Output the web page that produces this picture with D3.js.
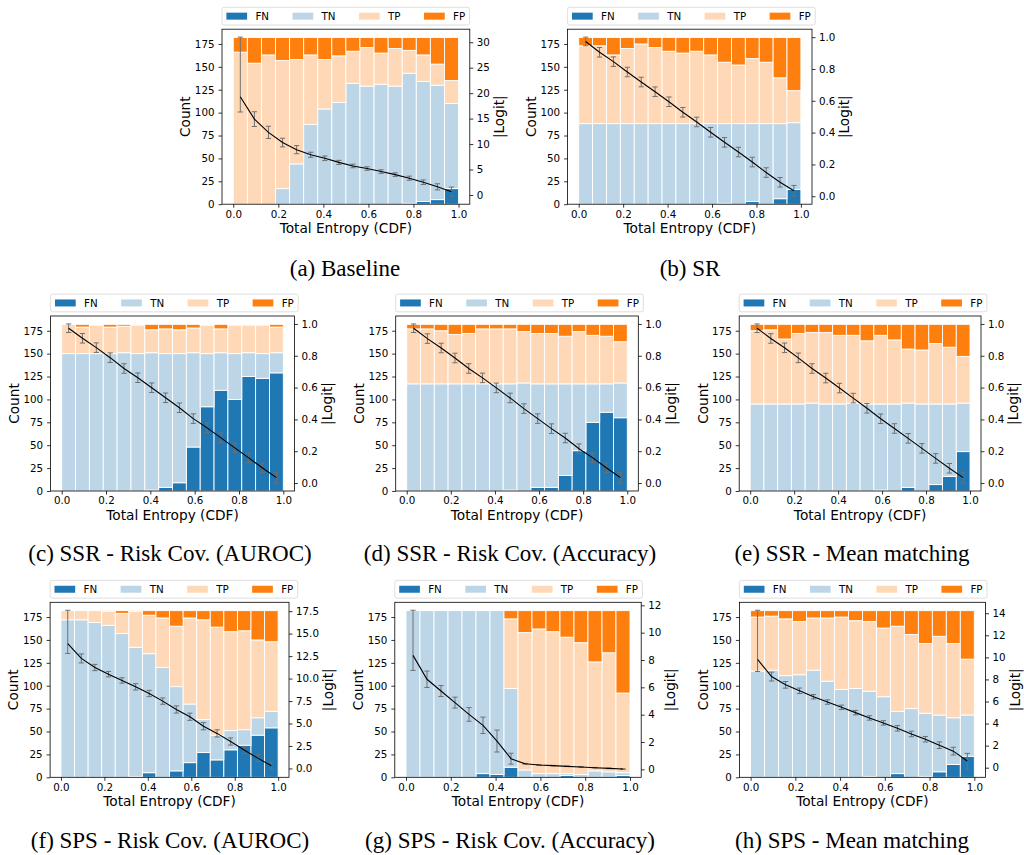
<!DOCTYPE html>
<html>
<head>
<meta charset="utf-8">
<script src="https://cdn.jsdelivr.net/npm/d3@7"></script>
<style>
  body { margin: 0; background: #fff; }
  svg { display: block; }
</style>
</head>
<body>
<svg id="fig" width="1024" height="855"></svg>
<script>
// ---- shared categories -------------------------------------------------
const classes = ["FN", "TN", "TP", "FP"];
const binLo = [0.0000, 0.0625, 0.1250, 0.1875, 0.2500, 0.3125, 0.3750, 0.4375,
               0.5000, 0.5625, 0.6250, 0.6875, 0.7500, 0.8125, 0.8750, 0.9375];
const binWidth = 0.0625;
const xTicks = [0.0, 0.2, 0.4, 0.6, 0.8, 1.0];
const countTicks = [0, 25, 50, 75, 100, 125, 150, 175];

// ---- (a) Baseline ------------------------------------------------------
const aFN = [0, 0, 0, 0, 0, 0, 0, 0, 0, 0, 0, 0, 1, 3, 5, 17];
const aTN = [0, 0, 0, 17, 44, 87, 104, 111, 132, 129, 131, 129, 142, 131, 125, 93];
const aTP = [166, 154, 163, 140, 114, 76, 54, 51, 35, 42, 34, 41, 25, 29, 23, 25];
const aFP = [16, 28, 19, 25, 24, 19, 24, 20, 15, 11, 17, 12, 14, 19, 29, 47];
const aLogit = [19.3, 14.9, 12.3, 10.3, 8.9, 7.9, 7.2, 6.4, 5.7, 5.2, 4.6, 4.0, 3.3, 2.5, 1.6, 0.65];
const aErrLo = [3.0, 1.45, 1.2, 0.85, 0.8, 0.5, 0.45, 0.4, 0.35, 0.35, 0.35, 0.35, 0.4, 0.45, 0.6, 0.9];
const aErrHi = [11.7, 1.45, 1.2, 0.85, 0.8, 0.5, 0.45, 0.4, 0.35, 0.35, 0.35, 0.35, 0.4, 0.45, 0.6, 0.9];
const aLogitTicks = [0, 5, 10, 15, 20, 25, 30];

// ---- (b) SR ------------------------------------------------------------
const bFN = [0, 0, 0, 0, 0, 0, 0, 0, 0, 0, 1, 0, 3, 0, 6, 16];
const bTN = [88, 88, 88, 88, 88, 88, 88, 88, 88, 88, 87, 88, 85, 88, 82, 73];
const bTP = [85, 85, 75, 82, 87, 83, 79, 77, 79, 75, 67, 64, 71, 67, 50, 35];
const bFP = [9, 9, 19, 12, 7, 11, 15, 17, 15, 19, 27, 30, 23, 27, 44, 58];
const bLogit = [0.973, 0.905, 0.846, 0.781, 0.718, 0.657, 0.594, 0.528, 0.467, 0.402, 0.339, 0.278, 0.215, 0.149, 0.088, 0.034];
const bErrLo = [0.027, 0.03, 0.03, 0.03, 0.03, 0.03, 0.03, 0.03, 0.03, 0.03, 0.03, 0.03, 0.03, 0.03, 0.03, 0.034];
const bErrHi = [0.027, 0.03, 0.03, 0.03, 0.03, 0.03, 0.03, 0.03, 0.03, 0.03, 0.03, 0.03, 0.03, 0.03, 0.03, 0.034];
const unitLogitTicks = [0.0, 0.2, 0.4, 0.6, 0.8, 1.0];

// ---- (c) SSR - Risk Cov. (AUROC) ---------------------------------------
const cFN = [0, 0, 0, 0, 0, 0, 1, 4, 9, 48, 92, 110, 100, 125, 123, 129];
const cTN = [150, 150, 150, 150, 151, 150, 150, 146, 141, 103, 58, 41, 50, 26, 27, 22];
const cTP = [32, 29, 31, 29, 29, 31, 25, 27, 26, 27, 31, 26, 31, 30, 31, 28];
const cFP = [0, 3, 1, 3, 2, 1, 6, 5, 6, 4, 1, 5, 1, 1, 1, 3];
const cLogit = [0.973, 0.91, 0.851, 0.788, 0.72, 0.662, 0.599, 0.536, 0.473, 0.405, 0.347, 0.284, 0.221, 0.158, 0.095, 0.034];
const cErrLo = [0.027, 0.03, 0.03, 0.03, 0.03, 0.03, 0.03, 0.03, 0.03, 0.03, 0.03, 0.03, 0.03, 0.03, 0.03, 0.034];
const cErrHi = [0.027, 0.03, 0.03, 0.03, 0.03, 0.03, 0.03, 0.03, 0.03, 0.03, 0.03, 0.03, 0.03, 0.03, 0.03, 0.034];

// ---- (d) SSR - Risk Cov. (Accuracy) ------------------------------------
const dFN = [0, 0, 0, 0, 0, 0, 0, 1, 0, 4, 4, 17, 44, 75, 86, 80];
const dTN = [117, 117, 117, 117, 117, 117, 117, 116, 118, 113, 113, 100, 73, 42, 31, 38];
const dTP = [60, 60, 58, 54, 55, 60, 60, 60, 56, 55, 55, 52, 57, 53, 52, 45];
const dFP = [5, 5, 7, 11, 10, 5, 5, 5, 8, 10, 10, 13, 8, 12, 13, 19];
const dLogit = [0.973, 0.908, 0.849, 0.786, 0.72, 0.661, 0.598, 0.535, 0.468, 0.405, 0.342, 0.283, 0.216, 0.158, 0.095, 0.034];
const dErrLo = [0.027, 0.03, 0.03, 0.03, 0.03, 0.03, 0.03, 0.03, 0.03, 0.03, 0.03, 0.03, 0.03, 0.03, 0.03, 0.034];
const dErrHi = [0.027, 0.03, 0.03, 0.03, 0.03, 0.03, 0.03, 0.03, 0.03, 0.03, 0.03, 0.03, 0.03, 0.03, 0.03, 0.034];

// ---- (e) SSR - Mean matching -------------------------------------------
const eFN = [0, 0, 0, 0, 0, 0, 0, 0, 0, 1, 0, 4, 0, 7, 16, 43];
const eTN = [95, 95, 95, 95, 96, 95, 95, 96, 95, 94, 95, 92, 95, 88, 79, 53];
const eTP = [80, 81, 71, 77, 77, 78, 75, 74, 69, 75, 70, 59, 59, 66, 62, 51];
const eFP = [7, 6, 16, 10, 9, 9, 12, 12, 18, 12, 17, 27, 28, 21, 25, 35];
const eLogit = [0.973, 0.909, 0.85, 0.787, 0.72, 0.66, 0.597, 0.534, 0.47, 0.404, 0.343, 0.281, 0.218, 0.155, 0.093, 0.034];
const eErrLo = [0.027, 0.03, 0.03, 0.03, 0.03, 0.03, 0.03, 0.03, 0.03, 0.03, 0.03, 0.03, 0.03, 0.03, 0.03, 0.034];
const eErrHi = [0.027, 0.03, 0.03, 0.03, 0.03, 0.03, 0.03, 0.03, 0.03, 0.03, 0.03, 0.03, 0.03, 0.03, 0.03, 0.034];

// ---- (f) SPS - Risk Cov. (AUROC) ---------------------------------------
const fFN = [0, 0, 0, 0, 0, 1, 5, 0, 7, 16, 27, 19, 30, 35, 46, 54];
const fTN = [172, 172, 169, 166, 157, 141, 130, 120, 92, 64, 36, 27, 21, 17, 19, 18];
const fTP = [10, 10, 13, 15, 22, 39, 42, 54, 66, 94, 109, 118, 108, 108, 85, 76];
const fFP = [0, 0, 0, 1, 3, 1, 5, 8, 17, 8, 10, 18, 23, 22, 32, 34];
const fLogit = [13.9, 12.24, 11.23, 10.49, 9.79, 9.08, 8.34, 7.49, 6.56, 5.75, 4.7, 3.9, 3.0, 2.05, 1.15, 0.3];
const fErrLo = [1.1, 0.5, 0.35, 0.3, 0.3, 0.35, 0.35, 0.35, 0.4, 0.4, 0.4, 0.4, 0.4, 0.4, 0.4, 0.4];
const fErrHi = [3.7, 0.5, 0.35, 0.3, 0.3, 0.35, 0.35, 0.35, 0.4, 0.4, 0.4, 0.4, 0.4, 0.4, 0.4, 0.4];
const fLogitTicks = [0.0, 2.5, 5.0, 7.5, 10.0, 12.5, 15.0, 17.5];

// ---- (g) SPS - Risk Cov. (Accuracy) ------------------------------------
const gFN = [0, 0, 0, 0, 0, 4, 3, 11, 0, 0, 0, 2, 0, 0, 0, 2];
const gTN = [182, 182, 182, 182, 182, 178, 179, 86, 8, 4, 4, 2, 3, 7, 6, 3];
const gTP = [0, 0, 0, 0, 0, 0, 0, 76, 150, 158, 155, 149, 144, 119, 130, 87];
const gFP = [0, 0, 0, 0, 0, 0, 0, 9, 24, 20, 23, 29, 35, 56, 46, 90];
const gLogit = [8.34, 6.59, 5.73, 4.88, 4.02, 3.22, 2.07, 0.78, 0.41, 0.32, 0.27, 0.22, 0.17, 0.12, 0.07, 0.02];
const gErrLo = [1.1, 0.6, 0.4, 0.4, 0.5, 0.6, 0.8, 0.4, 0.03, 0.02, 0.02, 0.02, 0.02, 0.02, 0.02, 0.02];
const gErrHi = [3.3, 0.6, 0.4, 0.4, 0.5, 0.6, 0.8, 0.4, 0.03, 0.02, 0.02, 0.02, 0.02, 0.02, 0.02, 0.02];
const gLogitTicks = [0, 2, 4, 6, 8, 10, 12];

// ---- (h) SPS - Mean matching -------------------------------------------
const hFN = [0, 0, 0, 0, 0, 0, 0, 0, 1, 0, 4, 0, 1, 6, 14, 23];
const hTN = [116, 117, 111, 112, 117, 105, 96, 97, 93, 88, 68, 75, 69, 62, 51, 45];
const hTP = [59, 59, 62, 58, 57, 69, 79, 74, 76, 75, 93, 81, 76, 86, 81, 61];
const hFP = [7, 6, 9, 12, 8, 8, 7, 11, 12, 19, 17, 26, 36, 28, 36, 53];
const hLogit = [9.82, 8.26, 7.51, 6.97, 6.43, 5.95, 5.47, 4.99, 4.51, 4.06, 3.57, 3.06, 2.58, 2.04, 1.5, 0.6];
const hErrLo = [1.1, 0.4, 0.3, 0.25, 0.2, 0.2, 0.2, 0.2, 0.2, 0.2, 0.25, 0.25, 0.25, 0.3, 0.35, 0.75];
const hErrHi = [4.45, 0.4, 0.3, 0.25, 0.2, 0.2, 0.2, 0.2, 0.2, 0.2, 0.25, 0.25, 0.25, 0.3, 0.35, 0.7];
const hLogitTicks = [0, 2, 4, 6, 8, 10, 12, 14];

const captions = [
  "(a) Baseline", "(b) SR",
  "(c) SSR - Risk Cov. (AUROC)", "(d) SSR - Risk Cov. (Accuracy)", "(e) SSR - Mean matching",
  "(f) SPS - Risk Cov. (AUROC)", "(g) SPS - Risk Cov. (Accuracy)", "(h) SPS - Mean matching"
];

// ---- figure setup ------------------------------------------------------
const panels = [
  { FN: aFN, TN: aTN, TP: aTP, FP: aFP, logit: aLogit, lo: aErrLo, hi: aErrHi, ticks: aLogitTicks, fmt: d3.format("d") },
  { FN: bFN, TN: bTN, TP: bTP, FP: bFP, logit: bLogit, lo: bErrLo, hi: bErrHi, ticks: unitLogitTicks, fmt: d3.format(".1f") },
  { FN: cFN, TN: cTN, TP: cTP, FP: cFP, logit: cLogit, lo: cErrLo, hi: cErrHi, ticks: unitLogitTicks, fmt: d3.format(".1f") },
  { FN: dFN, TN: dTN, TP: dTP, FP: dFP, logit: dLogit, lo: dErrLo, hi: dErrHi, ticks: unitLogitTicks, fmt: d3.format(".1f") },
  { FN: eFN, TN: eTN, TP: eTP, FP: eFP, logit: eLogit, lo: eErrLo, hi: eErrHi, ticks: unitLogitTicks, fmt: d3.format(".1f") },
  { FN: fFN, TN: fTN, TP: fTP, FP: fFP, logit: fLogit, lo: fErrLo, hi: fErrHi, ticks: fLogitTicks, fmt: d3.format(".1f") },
  { FN: gFN, TN: gTN, TP: gTP, FP: gFP, logit: gLogit, lo: gErrLo, hi: gErrHi, ticks: gLogitTicks, fmt: d3.format("d") },
  { FN: hFN, TN: hTN, TP: hTP, FP: hFP, logit: hLogit, lo: hErrLo, hi: hErrHi, ticks: hLogitTicks, fmt: d3.format("d") }
];

// plot frames (left, right, top, bottom) and caption anchors
const frames = [
  { L: 222.0, R: 469.8, T: 29.2,  B: 204.2, cx: 345, cy: 268 },
  { L: 567.6, R: 812.0, T: 29.2,  B: 204.2, cx: 690, cy: 268 },
  { L: 50.6,  R: 294.4, T: 316.0, B: 491.0, cx: 170, cy: 553 },
  { L: 395.7, R: 638.3, T: 316.0, B: 491.0, cx: 510, cy: 553 },
  { L: 739.2, R: 981.0, T: 316.0, B: 491.0, cx: 852, cy: 553 },
  { L: 50.1,  R: 289.0, T: 602.3, B: 777.3, cx: 170, cy: 840 },
  { L: 394.8, R: 641.2, T: 602.3, B: 777.3, cx: 510, cy: 840 },
  { L: 739.4, R: 985.5, T: 602.3, B: 777.3, cx: 852, cy: 840 }
];

const colors = { FN: "#1f77b4", TN: "#bcd6e8", TP: "#ffd9b7", FP: "#ff7f0e" };
const FONT = "'DejaVu Sans', sans-serif";
const TICK_FS = 10.3, LABEL_FS = 13.7, LEGEND_FS = 10.3;
const TICK_LEN = 3.5;

const svg = d3.select("#fig");

function styleAxis(g) {
  g.select(".domain").remove();
  g.selectAll(".tick line").attr("stroke", "#000").attr("stroke-width", 0.8);
  g.selectAll(".tick text").attr("fill", "#000")
    .style("font-family", FONT).style("font-size", TICK_FS + "px");
}

function maxTextWidth(g) {
  let w = 0;
  g.selectAll(".tick text").each(function () { w = Math.max(w, this.getComputedTextLength()); });
  return w;
}

function drawPanel(p, f, caption) {
  const g = svg.append("g");

  const rows = binLo.map((b, i) => ({ b, FN: p.FN[i], TN: p.TN[i], TP: p.TP[i], FP: p.FP[i] }));
  const stacked = d3.stack().keys(classes)(rows);
  const maxTotal = d3.max(rows, r => r.FN + r.TN + r.TP + r.FP);

  const x = d3.scaleLinear().domain([-0.05, 1.05]).range([f.L, f.R]);
  const y = d3.scaleLinear().domain([0, maxTotal * 1.05]).range([f.B, f.T]);

  const lowEnd = d3.min(p.logit, (v, i) => v - p.lo[i]);
  const highEnd = d3.max(p.logit, (v, i) => v + p.hi[i]);
  const pad = 0.05 * (highEnd - lowEnd);
  const y2 = d3.scaleLinear().domain([lowEnd - pad, highEnd + pad]).range([f.B, f.T]);

  // stacked bars
  g.append("g").selectAll("g").data(stacked).join("g")
    .attr("fill", s => colors[s.key])
    .selectAll("rect").data(s => s.filter(d => d[1] - d[0] > 0)).join("rect")
    .attr("x", d => x(d.data.b))
    .attr("width", d => x(d.data.b + binWidth) - x(d.data.b))
    .attr("y", d => y(d[1]))
    .attr("height", d => y(d[0]) - y(d[1]))
    .attr("stroke", "#fff").attr("stroke-width", 0.9);

  // error bars
  const centers = binLo.map(b => b + binWidth / 2);
  const eb = g.append("g").attr("stroke", "#707070").attr("stroke-width", 1);
  centers.forEach((c, i) => {
    const cx = x(c), yt = y2(p.logit[i] + p.hi[i]), yb = y2(p.logit[i] - p.lo[i]);
    eb.append("line").attr("x1", cx).attr("x2", cx).attr("y1", yt).attr("y2", yb);
    eb.append("line").attr("x1", cx - 2.6).attr("x2", cx + 2.6).attr("y1", yt).attr("y2", yt);
    eb.append("line").attr("x1", cx - 2.6).attr("x2", cx + 2.6).attr("y1", yb).attr("y2", yb);
  });

  // mean |logit| line
  g.append("path")
    .datum(p.logit)
    .attr("fill", "none").attr("stroke", "#000").attr("stroke-width", 1.1)
    .attr("d", d3.line().x((v, i) => x(centers[i])).y(v => y2(v)));

  // frame
  g.append("rect").attr("x", f.L).attr("y", f.T)
    .attr("width", f.R - f.L).attr("height", f.B - f.T)
    .attr("fill", "none").attr("stroke", "#000").attr("stroke-width", 0.8);

  // axes
  const gx = g.append("g").attr("transform", `translate(0,${f.B})`)
    .call(d3.axisBottom(x).tickValues(xTicks).tickFormat(d3.format(".1f"))
      .tickSizeInner(TICK_LEN).tickSizeOuter(0).tickPadding(2.6));
  styleAxis(gx);

  const gy = g.append("g").attr("transform", `translate(${f.L},0)`)
    .call(d3.axisLeft(y).tickValues(countTicks).tickFormat(d3.format("d"))
      .tickSizeInner(TICK_LEN).tickSizeOuter(0).tickPadding(4));
  styleAxis(gy);

  const gy2 = g.append("g").attr("transform", `translate(${f.R},0)`)
    .call(d3.axisRight(y2).tickValues(p.ticks).tickFormat(p.fmt)
      .tickSizeInner(TICK_LEN).tickSizeOuter(0).tickPadding(3.5));
  styleAxis(gy2);

  const wl = maxTextWidth(gy), wr = maxTextWidth(gy2);

  // axis titles
  g.append("text")
    .attr("transform", `translate(${f.L - (7.5 + wl + 4 + 5.5)},${(f.T + f.B) / 2}) rotate(-90)`)
    .attr("text-anchor", "middle").attr("dominant-baseline", "central")
    .style("font-family", FONT).style("font-size", LABEL_FS + "px").text("Count");

  g.append("text")
    .attr("transform", `translate(${f.R + (7 + wr + 4 + 5)},${(f.T + f.B) / 2}) rotate(-90)`)
    .attr("text-anchor", "middle").attr("dominant-baseline", "central")
    .style("font-family", FONT).style("font-size", LABEL_FS + "px").text("|Logit|");

  g.append("text")
    .attr("x", (f.L + f.R) / 2).attr("y", f.B + 24)
    .attr("text-anchor", "middle").attr("dominant-baseline", "central")
    .style("font-family", FONT).style("font-size", LABEL_FS + "px").text("Total Entropy (CDF)");

  // legend above the frame, left aligned with it
  const legH = 17.7, legY = f.T - 4.2 - legH;
  const lg = g.append("g").attr("transform", `translate(${f.L},${legY})`);
  const box = lg.append("rect").attr("rx", 2).attr("ry", 2)
    .attr("height", legH).attr("fill", "#fff").attr("fill-opacity", 0.8)
    .attr("stroke", "#d6d6d6").attr("stroke-width", 0.8);
  let cursor = 4.4;
  classes.forEach(k => {
    lg.append("rect").attr("x", cursor).attr("y", legH / 2 - 3.5)
      .attr("width", 20.7).attr("height", 7).attr("fill", colors[k]);
    const t = lg.append("text").attr("x", cursor + 29).attr("y", legH / 2)
      .attr("dominant-baseline", "central")
      .style("font-family", FONT).style("font-size", LEGEND_FS + "px").text(k);
    cursor += 29 + t.node().getComputedTextLength() + 23.5;
  });
  box.attr("width", cursor - 23.5 + 4.4);

  // sub-figure caption
  svg.append("text").attr("x", f.cx).attr("y", f.cy)
    .attr("text-anchor", "middle").attr("dominant-baseline", "central")
    .style("font-family", "'Liberation Serif', 'Times New Roman', serif")
    .style("font-size", "23px").text(caption);
}

panels.forEach((p, i) => drawPanel(p, frames[i], captions[i]));
</script>
</body>
</html>
